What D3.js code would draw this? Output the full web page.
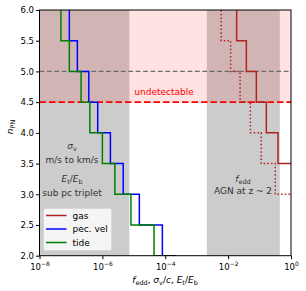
<!DOCTYPE html>
<html>
<head>
<meta charset="utf-8">
<style>
  body { margin: 0; background: #fff; }
  svg { font-family: "DejaVu Sans", sans-serif; }
</style>
</head>
<body>
<svg width="306" height="291"></svg>
<script src="https://d3js.org/d3.v7.min.js"></script>
<script>
// PN order levels (top to bottom) and the step values for each curve
var nLevels  = [6.0, 5.5, 5.0, 4.5, 4.0, 3.5, 3.0, 2.5, 2.0];
var tide     = [4.8e-8, 8.9e-8, 2.1e-7, 4.0e-7, 1.0e-6, 2.5e-6, 8.1e-6, 4.4e-5, 2.2e-4];
var pecVel   = [8.9e-8, 1.6e-7, 3.7e-7, 7.1e-7, 1.8e-6, 4.6e-6, 1.5e-5, 8.1e-5, 2.2e-4];
var gas      = [0.0187, 0.038, 0.079, 0.164, 0.386, 2.0, 4.0, 8.0, 16.0];
var gasDot   = [0.0060, 0.012, 0.024, 0.051, 0.113, 0.316, 1.6, 3.2, 6.4];

var leftBand  = [1e-8, 7.2e-6];   // sigma_v, E_t/E_b range
var rightBand = [2.1e-3, 0.44];   // f_edd AGN at z~2
var undetect  = [4.5, 6.0];

var xTicks = [1e-8, 1e-6, 1e-4, 1e-2, 1];
var xTickExp = ["\u22128", "\u22126", "\u22124", "\u22122", "0"];
var yTicks = [2.0, 2.5, 3.0, 3.5, 4.0, 4.5, 5.0, 5.5, 6.0];

var svg = d3.select("svg"),
    margin = {left: 39.5, right: 15, top: 10, bottom: 35.3},
    W = 306, H = 291;

var x = d3.scaleLog().domain([1e-8, 1]).range([margin.left, W - margin.right]);
var y = d3.scaleLinear().domain([2, 6]).range([H - margin.bottom, margin.top]);

svg.append("clipPath").attr("id", "plot")
  .append("rect")
  .attr("x", x(1e-8)).attr("y", y(6))
  .attr("width", x(1) - x(1e-8)).attr("height", y(2) - y(6));

var g = svg.append("g").attr("clip-path", "url(#plot)");

// shaded bands
[leftBand, rightBand].forEach(function(b) {
  g.append("rect")
    .attr("x", x(b[0])).attr("y", y(6))
    .attr("width", x(b[1]) - x(b[0])).attr("height", y(2) - y(6))
    .attr("fill", "#808080").attr("fill-opacity", 0.4);
});
g.append("rect")
  .attr("x", x(1e-8)).attr("y", y(undetect[1]))
  .attr("width", x(1) - x(1e-8)).attr("height", y(undetect[0]) - y(undetect[1]))
  .attr("fill", "red").attr("fill-opacity", 0.11);

// horizontal reference lines
g.append("line")
  .attr("x1", x(1e-8)).attr("x2", x(1)).attr("y1", y(5)).attr("y2", y(5))
  .attr("stroke", "#6a6a6a").attr("stroke-width", 1.2).attr("stroke-dasharray", "4.8,2.6");
g.append("line")
  .attr("x1", x(1e-8)).attr("x2", x(1)).attr("y1", y(4.5)).attr("y2", y(4.5))
  .attr("stroke", "red").attr("stroke-width", 1.8).attr("stroke-dasharray", "6.5,3");

var line = d3.line()
  .x(function(d) { return x(d[0]); })
  .y(function(d) { return y(d[1]); })
  .curve(d3.curveStepBefore);

function pts(vals) { return vals.map(function(v, i) { return [v, nLevels[i]]; }); }

g.append("path").datum(pts(gasDot)).attr("d", line)
  .attr("fill", "none").attr("stroke", "#b22222").attr("stroke-width", 1.5)
  .attr("stroke-dasharray", "1.5,2.2");
g.append("path").datum(pts(gas)).attr("d", line)
  .attr("fill", "none").attr("stroke", "#b22222").attr("stroke-width", 1.5);
g.append("path").datum(pts(pecVel)).attr("d", line)
  .attr("fill", "none").attr("stroke", "blue").attr("stroke-width", 1.5);
g.append("path").datum(pts(tide)).attr("d", line)
  .attr("fill", "none").attr("stroke", "green").attr("stroke-width", 1.5);

// annotations
g.append("text").attr("x", 164).attr("y", 95)
  .attr("text-anchor", "middle").attr("font-size", 9).attr("fill", "red")
  .text("undetectable");

// italic symbol with an upright subscript
function sub(sel, main, subtxt) {
  sel.append("tspan").attr("font-style", "italic").text(main);
  sel.append("tspan").attr("font-size", "0.72em").attr("baseline-shift", "-2.4").text(subtxt);
}

var ann = svg.append("g").attr("font-size", 9).attr("fill", "#333").attr("text-anchor", "middle");
var t1 = ann.append("text").attr("x", 72).attr("y", 149);
sub(t1, "\u03c3", "v");
ann.append("text").attr("x", 72).attr("y", 163).text("m/s to km/s");
var t2 = ann.append("text").attr("x", 72).attr("y", 182);
sub(t2, "E", "t");
t2.append("tspan").text("/");
sub(t2, "E", "b");
ann.append("text").attr("x", 72).attr("y", 196).text("sub pc triplet");
var t3 = ann.append("text").attr("x", 243).attr("y", 182);
sub(t3, "f", "edd");
ann.append("text").attr("x", 243).attr("y", 194).text("AGN at z ~ 2");

// frame
svg.append("rect")
  .attr("x", x(1e-8)).attr("y", y(6))
  .attr("width", x(1) - x(1e-8)).attr("height", y(2) - y(6))
  .attr("fill", "none").attr("stroke", "#000").attr("stroke-width", 1);

// axes
var xAxis = svg.append("g")
  .attr("transform", "translate(0," + y(2) + ")")
  .call(d3.axisBottom(x).tickValues(xTicks).tickSize(3.5).tickPadding(2).tickFormat(function() { return "10"; }));
xAxis.select(".domain").remove();
xAxis.selectAll(".tick text").each(function(d, i) {
  var t = d3.select(this).attr("font-size", 8.5).attr("fill", "#000").attr("font-family", "DejaVu Sans");
  t.attr("dy", "1em").text(null);
  t.append("tspan").text("10");
  t.append("tspan").attr("font-size", "0.7em").attr("baseline-shift", "3.6").text(xTickExp[i]);
});

var yAxis = svg.append("g")
  .attr("transform", "translate(" + x(1e-8) + ",0)")
  .call(d3.axisLeft(y).tickValues(yTicks).tickSize(3.5).tickPadding(2).tickFormat(d3.format(".1f")));
yAxis.select(".domain").remove();
yAxis.selectAll(".tick text").attr("font-size", 8.5).attr("fill", "#000").attr("font-family", "DejaVu Sans");

// axis labels
var yl = svg.append("text")
  .attr("transform", "translate(13,127) rotate(-90)")
  .attr("text-anchor", "middle").attr("font-size", 9);
sub(yl, "n", "PN");

var xl = svg.append("text").attr("x", 165).attr("y", 283)
  .attr("text-anchor", "middle").attr("font-size", 9);
sub(xl, "f", "edd");
xl.append("tspan").text(", ");
sub(xl, "\u03c3", "v");
xl.append("tspan").text("/");
xl.append("tspan").attr("font-style", "italic").text("c");
xl.append("tspan").text(", ");
sub(xl, "E", "t");
xl.append("tspan").text("/");
sub(xl, "E", "b");

// legend
var names = ["gas", "pec. vel", "tide"];
var colors = ["#b22222", "blue", "green"];
var lg = svg.append("g");
lg.append("rect").attr("x", 43.5).attr("y", 208.5).attr("width", 68).attr("height", 42)
  .attr("rx", 2).attr("fill", "#fff").attr("fill-opacity", 0.8).attr("stroke", "#d6d6d6").attr("stroke-width", 0.8);
names.forEach(function(n, i) {
  var yy = 215.5 + i * 13.5;
  lg.append("line").attr("x1", 46).attr("x2", 66.5).attr("y1", yy).attr("y2", yy)
    .attr("stroke", colors[i]).attr("stroke-width", 1.5);
  lg.append("text").attr("x", 72.5).attr("y", yy + 3.2).attr("font-size", 9).text(n);
});
</script>
</body>
</html>
